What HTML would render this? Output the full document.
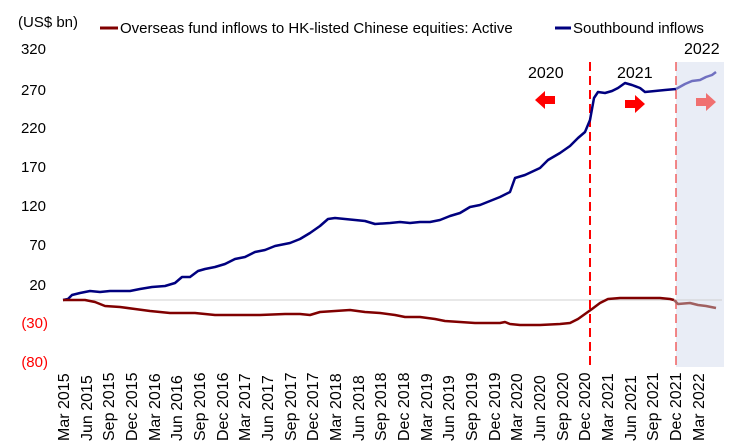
<!DOCTYPE html>
<html><head><meta charset="utf-8"><style>
body{margin:0;background:#fff}
svg{display:block;font-family:"Liberation Sans",Arial,sans-serif}
</style></head><body>
<svg width="733" height="445" viewBox="0 0 733 445">
<rect x="676" y="62" width="48" height="305" fill="#e9edf6"/>
<line x1="63" y1="300" x2="722" y2="300" stroke="#d0d0d0" stroke-width="1"/>
<g font-size="15" fill="#000">
<text x="18" y="27">(US$ bn)</text>
<text x="120" y="33">Overseas fund inflows to HK-listed Chinese equities: Active</text>
<text x="573" y="33">Southbound inflows</text>
</g>
<line x1="100" y1="28" x2="118" y2="28" stroke="#800000" stroke-width="3"/>
<line x1="555" y1="28" x2="571" y2="28" stroke="#00007f" stroke-width="3"/>
<g font-size="15" text-anchor="end">
<text x="46" y="54">320</text><text x="46" y="95">270</text><text x="46" y="133">220</text>
<text x="46" y="172">170</text><text x="46" y="211">120</text><text x="46" y="250">70</text>
<text x="46" y="290">20</text>
<text x="48" y="328" fill="#ff0000">(30)</text><text x="48" y="367" fill="#ff0000">(80)</text>
</g>
<g font-size="16">
<text x="528" y="78">2020</text><text x="617" y="78">2021</text><text x="684" y="54">2022</text>
</g>
<path d="M535,100 l10,-9 v5 h10 v8 h-10 v5z" fill="#ff0000"/>
<path d="M645,104 l-10,-9 v5 h-10 v8 h10 v5z" fill="#ff0000"/>
<path d="M716,102 l-10,-9 v5 h-10 v8 h10 v5z" fill="#f07070"/>
<line x1="590" y1="62" x2="590" y2="367" stroke="#ff0000" stroke-width="2" stroke-dasharray="9,5"/>
<line x1="676" y1="62" x2="676" y2="367" stroke="#f06060" stroke-width="1.5" stroke-dasharray="9,5"/>
<polyline fill="none" stroke="#00007f" stroke-width="2.5" stroke-linejoin="round" points="63,300 68,299 72,295 80,293 90,291 100,292 110,291 130,291 140,289 152,287 165,286 175,283 182,277 190,277 198,271 205,269 215,267 225,264 235,259 245,257 255,252 265,250 275,246 290,243 300,239 310,233 320,226 328,219 335,218 345,219 355,220 365,221 375,224 390,223 400,222 410,223 420,222 430,222 440,220 450,216 460,213 470,207 480,205 490,201 500,197 510,192 515,178 525,175 540,168 548,160 560,153 570,146 578,138 585,132 590,120 594,98 598,92 605,93 612,91 618,88 625,83 632,85 640,88 645,92 655,91 665,90 676,89"/>
<polyline fill="none" stroke="#7070c0" stroke-width="2.5" stroke-linejoin="round" points="676,89 685,84 692,81 700,80 706,77 712,75 716,72"/>
<polyline fill="none" stroke="#800000" stroke-width="2.5" stroke-linejoin="round" points="63,300 85,300 95,302 105,306 120,307 135,309 150,311 170,313 195,313 215,315 240,315 260,315 285,314 300,314 310,315 320,312 335,311 350,310 365,312 380,313 395,315 405,317 420,317 435,319 445,321 460,322 475,323 490,323 500,323 505,322 510,324 520,325 540,325 560,324 570,323 578,319 585,314 592,309 600,303 608,299 620,298 640,298 660,298 670,299 674,300"/>
<polyline fill="none" stroke="#a06060" stroke-width="2.5" stroke-linejoin="round" points="674,300 678,304 690,303 698,305 706,306 716,308"/>
<g font-size="16">
<text transform="translate(69,441) rotate(-90)">Mar 2015</text>
<text transform="translate(92,441) rotate(-90)">Jun 2015</text>
<text transform="translate(114,441) rotate(-90)">Sep 2015</text>
<text transform="translate(137,441) rotate(-90)">Dec 2015</text>
<text transform="translate(160,441) rotate(-90)">Mar 2016</text>
<text transform="translate(182,441) rotate(-90)">Jun 2016</text>
<text transform="translate(205,441) rotate(-90)">Sep 2016</text>
<text transform="translate(228,441) rotate(-90)">Dec 2016</text>
<text transform="translate(250,441) rotate(-90)">Mar 2017</text>
<text transform="translate(273,441) rotate(-90)">Jun 2017</text>
<text transform="translate(296,441) rotate(-90)">Sep 2017</text>
<text transform="translate(318,441) rotate(-90)">Dec 2017</text>
<text transform="translate(341,441) rotate(-90)">Mar 2018</text>
<text transform="translate(364,441) rotate(-90)">Jun 2018</text>
<text transform="translate(386,441) rotate(-90)">Sep 2018</text>
<text transform="translate(409,441) rotate(-90)">Dec 2018</text>
<text transform="translate(432,441) rotate(-90)">Mar 2019</text>
<text transform="translate(454,441) rotate(-90)">Jun 2019</text>
<text transform="translate(477,441) rotate(-90)">Sep 2019</text>
<text transform="translate(500,441) rotate(-90)">Dec 2019</text>
<text transform="translate(522,441) rotate(-90)">Mar 2020</text>
<text transform="translate(545,441) rotate(-90)">Jun 2020</text>
<text transform="translate(568,441) rotate(-90)">Sep 2020</text>
<text transform="translate(590,441) rotate(-90)">Dec 2020</text>
<text transform="translate(613,441) rotate(-90)">Mar 2021</text>
<text transform="translate(636,441) rotate(-90)">Jun 2021</text>
<text transform="translate(658,441) rotate(-90)">Sep 2021</text>
<text transform="translate(681,441) rotate(-90)">Dec 2021</text>
<text transform="translate(704,441) rotate(-90)">Mar 2022</text>
</g>
</svg>
</body></html>
